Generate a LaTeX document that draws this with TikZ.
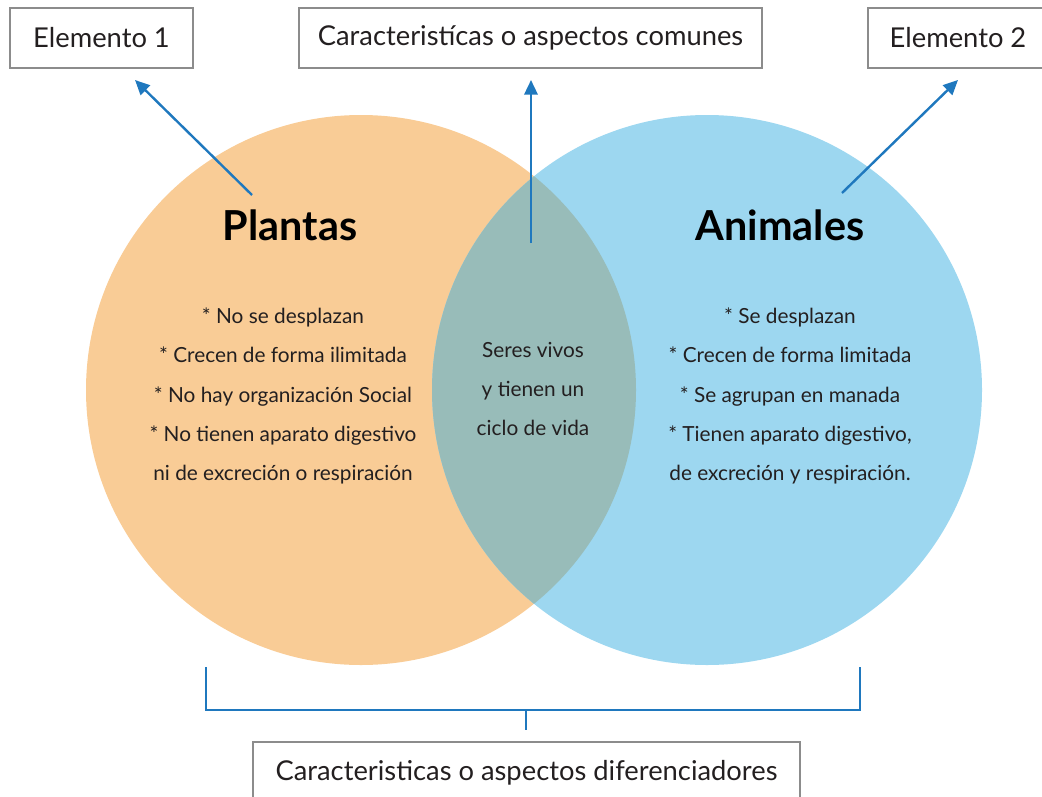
\documentclass[tikz,border=0pt]{standalone}
\usepackage{fontspec}
\setmainfont{Lato}
\definecolor{plantfill}{HTML}{F9CC96}
\definecolor{animfill}{HTML}{9DD7F0}
\definecolor{commonfill}{HTML}{98BCB9}
\definecolor{arrowblue}{HTML}{1F78BE}
\definecolor{boxgray}{HTML}{8C8C8C}
\definecolor{inkdark}{HTML}{231F20}
\tikzset{every picture/.style={line width=0.75pt}}
\tikzset{
  labelbox/.style={draw=boxgray, line width=1.1pt, minimum height=45pt, inner sep=0pt, text=inkdark, font=\fontsize{20.5}{24}\selectfont},
  pointer/.style={draw=arrowblue, line width=1.8pt, -{Triangle[length=11pt,width=10pt]}},
  bracket/.style={draw=arrowblue, line width=1.8pt},
  listtext/.style={align=center, text=inkdark, font=\fontsize{15.6}{29.5}\selectfont},
  titletext/.style={text=black, font=\fontsize{31}{36}\selectfont\bfseries}
}
\usetikzlibrary{arrows.meta}
\begin{document}
\begin{tikzpicture}[x=0.75pt,y=0.75pt,yscale=-1,xscale=1]
		\useasboundingbox (0,0) rectangle (1042,796);
		
		%Shape: Circle [plantas]
		\fill[plantfill] (361,390) circle (275);
		%Shape: Circle [animales]
		\fill[animfill] (707,390) circle (275);
		%Shape: Lens [comun]
		\begin{scope}
		\clip (361,390) circle (275);
		\fill[commonfill] (707,390) circle (275);
		\end{scope}
		
		%Boxes
		\node (elem1) [labelbox, minimum width=137.25pt] at (101.5,38) {Elemento 1};
		\node (comunes) [labelbox, minimum width=347.25pt] at (530.5,38) {Caracteristícas o aspectos comunes};
		\node (elem2) [labelbox, minimum width=135pt] at (958,38) {Elemento 2};
		\node (difer) [labelbox, minimum width=410.25pt, minimum height=46.5pt] at (526.5,773) {Caracteristicas o aspectos diferenciadores};
		
		%Titles
		\node (plantas) [titletext] at (290,225) {Plantas};
		\node (animales) [titletext] at (780,225) {Animales};
		
		%Lists
		\node (plantlist) [listtext] at (283,396) {* No se desplazan\\* Crecen de forma ilimitada\\* No hay organización Social\\* No tienen aparato digestivo\\ni de excreción o respiración};
		\node (comunlist) [listtext] at (533,389) {Seres vivos\\y tienen un\\ciclo de vida};
		\node (animlist) [listtext] at (790,396) {* Se desplazan\\* Crecen de forma limitada\\* Se agrupan en manada\\* Tienen aparato digestivo,\\de excreción y respiración.};
		
		%Arrows
		\coordinate (p1) at (252,195);
		\coordinate (e1) at (135,80);
		\coordinate (p2) at (531,243);
		\coordinate (e2) at (531,80);
		\coordinate (p3) at (842,193);
		\coordinate (e3) at (958,80);
		\draw[pointer] (p1) -- (e1);
		\draw[pointer] (p2) -- (e2);
		\draw[pointer] (p3) -- (e3);
		
		%Bracket
		\coordinate (bl) at (206,667);
		\coordinate (br) at (860,667);
		\coordinate (bm) at (526,710);
		\draw[bracket] (bl) |- (bm) -| (br);
		\draw[bracket] (bm) -- (526,730);
		
	\end{tikzpicture}
\end{document}
